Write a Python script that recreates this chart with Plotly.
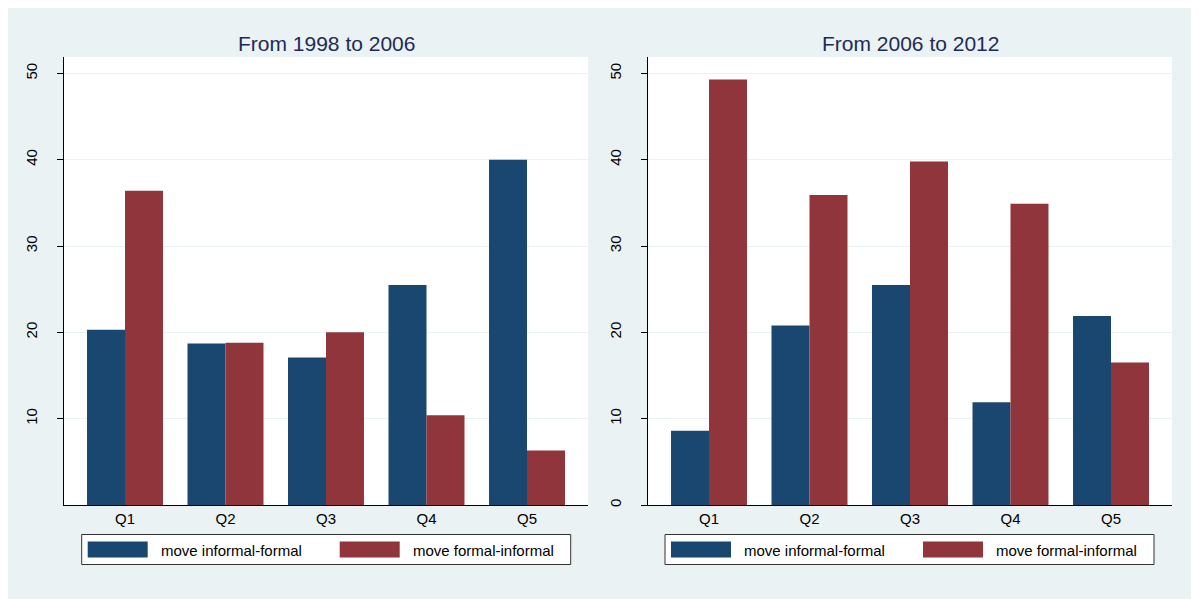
import plotly.graph_objects as go
from plotly.subplots import make_subplots

# data
quintiles = ["Q1", "Q2", "Q3", "Q4", "Q5"]
series_names = ["move informal-formal", "move formal-informal"]
panel_titles = ["From 1998 to 2006", "From 2006 to 2012"]

inf_to_for_9806 = [20.3, 18.7, 17.1, 25.5, 40.0]
for_to_inf_9806 = [36.4, 18.8, 20.0, 10.4, 6.3]
inf_to_for_0612 = [8.6, 20.8, 25.5, 11.9, 21.9]
for_to_inf_0612 = [49.3, 35.9, 39.8, 34.9, 16.5]

left_ticks = [10, 20, 30, 40, 50]
right_ticks = [0, 10, 20, 30, 40, 50]

# stata s2color look
navy = "#1A476F"
maroon = "#90353B"
bg = "#EAF2F3"
font_family = "Liberation Sans, Arial, sans-serif"

# page has an 8px body margin, so the figure starts at (8, 8) on screen
OFF = 8
W, H = 1199 - OFF, 599 - OFF
ml, mr, mt, mb = 64 - OFF, 27, 57 - OFF, 94
pw = W - ml - mr
ph = H - mt - mb


# helpers: screen pixel -> paper coordinate
def fx(px):
    return (px - OFF - ml) / pw


def fy(py):
    return (H - mb - (py - OFF)) / ph


fig = make_subplots(rows=1, cols=2)

panels = [
    (inf_to_for_9806, for_to_inf_9806, 1),
    (inf_to_for_0612, for_to_inf_0612, 2),
]
for blue_vals, red_vals, col in panels:
    fig.add_trace(go.Bar(x=quintiles, y=blue_vals, name=series_names[0],
                         marker_color=navy, marker_line_width=0,
                         showlegend=False), row=1, col=col)
    fig.add_trace(go.Bar(x=quintiles, y=red_vals, name=series_names[1],
                         marker_color=maroon, marker_line_width=0,
                         showlegend=False), row=1, col=col)

axis_common = dict(showline=True, linecolor="black", linewidth=1,
                   tickfont=dict(size=15, color="black", family=font_family))

fig.update_xaxes(domain=[0, fx(588)], row=1, col=1)
fig.update_xaxes(domain=[fx(648), 1], row=1, col=2)
fig.update_xaxes(range=[-0.607, 4.607], ticks="", showgrid=False, **axis_common)

fig.update_yaxes(range=[0, 51.9], ticks="outside", ticklen=6, tickcolor="black",
                 tickangle=-90, showgrid=True, gridcolor=bg, gridwidth=1,
                 zeroline=False, ticklabelstandoff=14, **axis_common)
fig.update_yaxes(tickvals=left_ticks, row=1, col=1)
fig.update_yaxes(tickvals=right_ticks, row=1, col=2)

# panel titles
for i, title in enumerate(panel_titles):
    cx = (64 + 588) / 2 if i == 0 else (648 + 1172) / 2
    fig.add_annotation(text=title, xref="paper", yref="paper",
                       x=fx(cx), y=fy(43), xanchor="center", yanchor="middle",
                       showarrow=False,
                       font=dict(size=21, color="#1F2A55", family=font_family))

# stata-style legend boxes under each panel
shapes = []
for left in (81.7, 665.0):
    shapes.append(dict(type="rect", xref="paper", yref="paper",
                       x0=fx(left), x1=fx(left + 489), y0=fy(534.5), y1=fy(564.5),
                       fillcolor="white", line=dict(color="#333333", width=1)))
    for k, (off, color) in enumerate([(6, navy), (258, maroon)]):
        shapes.append(dict(type="rect", xref="paper", yref="paper",
                           x0=fx(left + off), x1=fx(left + off + 60),
                           y0=fy(541.5), y1=fy(557.5),
                           fillcolor=color, line_width=0))
        fig.add_annotation(text=series_names[k], xref="paper", yref="paper",
                           x=fx(left + off + 71), y=fy(550), xanchor="left",
                           yanchor="middle", showarrow=False,
                           font=dict(size=15, color="black", family=font_family))

fig.update_layout(
    width=W, height=H,
    margin=dict(l=ml, r=mr, t=mt, b=mb),
    barmode="group", bargap=0.244, bargroupgap=0,
    paper_bgcolor=bg, plot_bgcolor="white",
    font=dict(family=font_family, color="black"),
    shapes=shapes,
    showlegend=False,
)

fig.write_html("out.html")
